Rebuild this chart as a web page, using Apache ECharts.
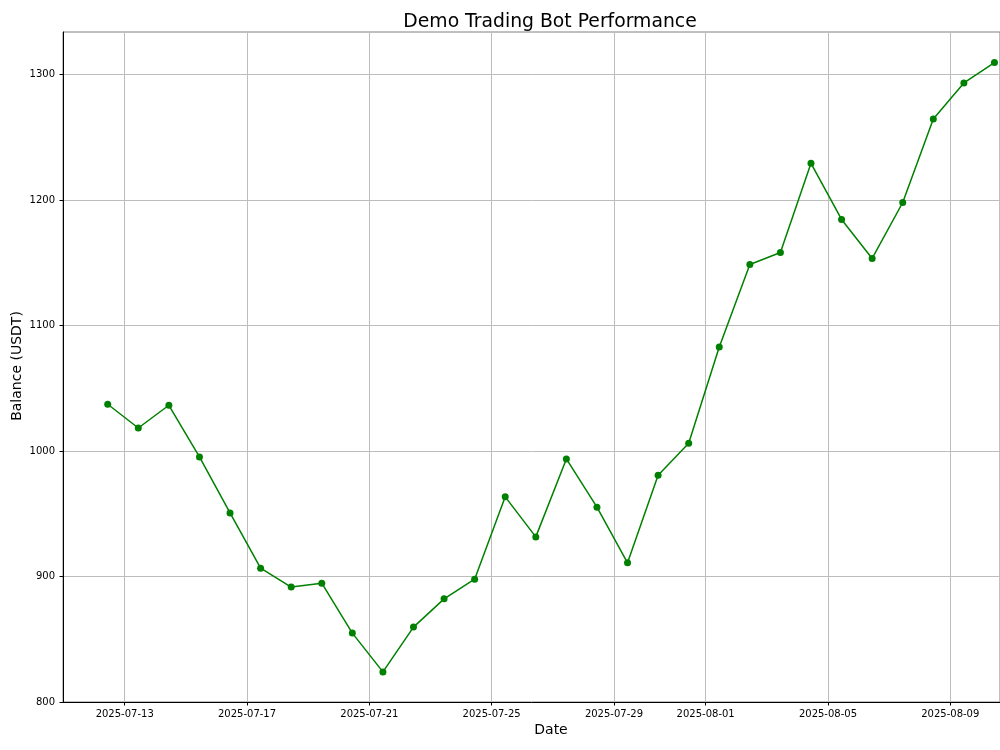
<!DOCTYPE html>
<html>
<head>
<meta charset="utf-8">
<title>Demo Trading Bot Performance</title>
<script src="https://cdn.jsdelivr.net/npm/echarts@6/dist/echarts.min.js"></script>
<style>
  html, body { margin: 0; padding: 0; background: #fff; }
  #chart { width: 1000px; height: 750px; }
</style>
</head>
<body>
<div id="chart"></div>
<script>
// daily balance snapshots (taken around 10:40 each day)
const dates = [
  '2025-07-12', '2025-07-13', '2025-07-14', '2025-07-15', '2025-07-16',
  '2025-07-17', '2025-07-18', '2025-07-19', '2025-07-20', '2025-07-21',
  '2025-07-22', '2025-07-23', '2025-07-24', '2025-07-25', '2025-07-26',
  '2025-07-27', '2025-07-28', '2025-07-29', '2025-07-30', '2025-07-31',
  '2025-08-01', '2025-08-02', '2025-08-03', '2025-08-04', '2025-08-05',
  '2025-08-06', '2025-08-07', '2025-08-08', '2025-08-09', '2025-08-10'
];
const balance = [
  1037.3, 1018.4, 1036.5, 995.3, 950.7, 906.7, 891.6, 894.7, 854.9, 824.0,
  859.7, 882.2, 897.9, 963.5, 931.6, 993.7, 955.3, 910.9, 980.8, 1006.2,
  1082.9, 1148.7, 1158.3, 1229.3, 1184.6, 1153.5, 1198.1, 1264.7, 1293.4, 1309.6
];
const xTickLabels = [
  '2025-07-13', '2025-07-17', '2025-07-21', '2025-07-25',
  '2025-07-29', '2025-08-01', '2025-08-05', '2025-08-09'
];
const yTicks = [800, 900, 1000, 1100, 1200, 1300];

const SNAP_HOUR = 10, SNAP_MIN = 40;

function toTime(s, h, m) {
  const p = s.split('-').map(Number);
  return new Date(p[0], p[1] - 1, p[2], h || 0, m || 0).getTime();
}
function fmt(v) {
  const d = new Date(v);
  const pad = n => (n < 10 ? '0' : '') + n;
  return d.getFullYear() + '-' + pad(d.getMonth() + 1) + '-' + pad(d.getDate());
}

const seriesData = dates.map((d, i) => [toTime(d, SNAP_HOUR, SNAP_MIN), balance[i]]);
const xTicks = xTickLabels.map(s => toTime(s));

const font = 'DejaVu Sans, sans-serif';
const chart = echarts.init(document.getElementById('chart'), null, { renderer: 'canvas' });

chart.setOption({
  animation: false,
  backgroundColor: '#fff',
  title: {
    text: 'Demo Trading Bot Performance',
    left: 545,
    top: 8,
    textAlign: 'center',
    textStyle: { fontFamily: font, fontSize: 18.8, fontWeight: 'normal', color: '#000' }
  },
  grid: {
    left: 63, right: 0, top: 32, bottom: 48,
    show: true, borderColor: '#808080', borderWidth: 1, backgroundColor: 'transparent'
  },
  xAxis: {
    type: 'value',
    scale: true,
    min: toTime('2025-07-10', 23, 34),
    max: toTime('2025-08-10', 15, 1),
    axisLine: { lineStyle: { color: '#000', width: 1 } },
    axisTick: { show: true, length: 3.5, customValues: xTicks, lineStyle: { color: '#000' } },
    axisLabel: {
      customValues: xTicks, margin: 7, color: '#000', fontFamily: font, fontSize: 10,
      formatter: v => fmt(v)
    },
    splitLine: { show: true, lineStyle: { color: '#bdbdbd', width: 1 } }
  },
  yAxis: {
    type: 'value',
    min: 800,
    max: 1334,
    axisLine: { show: true, lineStyle: { color: '#000', width: 1 } },
    axisTick: { show: true, length: 3.5, customValues: yTicks, lineStyle: { color: '#000' } },
    axisLabel: {
      customValues: yTicks, margin: 8, color: '#000', fontFamily: font, fontSize: 10,
      formatter: v => String(v)
    },
    splitLine: { show: true, lineStyle: { color: '#bdbdbd', width: 1 } }
  },
  graphic: [
    {
      type: 'text', x: 551, y: 730,
      style: { text: 'Date', align: 'center', verticalAlign: 'middle',
               font: '14px ' + font, fill: '#000' }
    },
    {
      type: 'text', x: 17, y: 366, rotation: Math.PI / 2,
      style: { text: 'Balance (USDT)', align: 'center', verticalAlign: 'middle',
               font: '14px ' + font, fill: '#000' }
    }
  ],
  series: [{
    name: 'Balance',
    type: 'line',
    data: seriesData,
    symbol: 'circle',
    symbolSize: 7,
    itemStyle: { color: '#008000' },
    lineStyle: { color: '#008000', width: 1.5 },
    clip: false
  }]
});
</script>
</body>
</html>
